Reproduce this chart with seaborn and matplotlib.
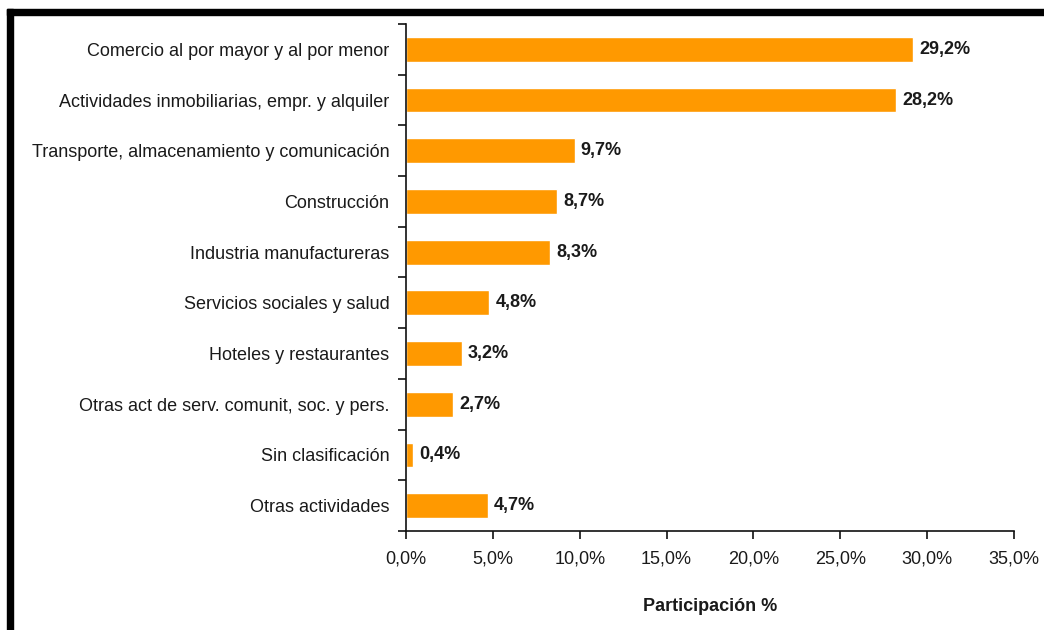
import numpy as np
import pandas as pd
import matplotlib
matplotlib.use("Agg")
import matplotlib.pyplot as plt
from matplotlib.patches import Rectangle
import seaborn as sns

categorias = [
    "Comercio al por mayor y al por menor",
    "Actividades inmobiliarias, empr. y alquiler",
    "Transporte, almacenamiento y comunicación",
    "Construcción",
    "Industria manufactureras",
    "Servicios sociales y salud",
    "Hoteles y restaurantes",
    "Otras act de serv. comunit, soc. y pers.",
    "Sin clasificación",
    "Otras actividades",
]
participacion = [29.2, 28.2, 9.7, 8.7, 8.3, 4.8, 3.2, 2.7, 0.4, 4.7]
xticks = [0, 5, 10, 15, 20, 25, 30, 35]

df = pd.DataFrame({"categoria": categorias, "valor": participacion})

sns.set_style("white")
plt.rcParams["font.family"] = ["Liberation Sans", "DejaVu Sans"]

fig = plt.figure(figsize=(10.44, 6.30), dpi=100)
ax = fig.add_axes([406 / 1044, 1 - 531 / 630, (1014 - 406) / 1044, (531 - 24) / 630])

sns.barplot(data=df, x="valor", y="categoria", color="#FF9900", saturation=1,
            width=0.49, ax=ax)

for i, v in enumerate(participacion):
    ax.text(v + 0.35, i, f"{v:.1f}%".replace(".", ","), va="center", ha="left",
            fontsize=13, fontweight="semibold", color="#1a1a1a")

ax.set_xlim(0, 35)
ax.set_ylim(9.5, -0.5)
ax.set_xticks(xticks)
ax.set_xticklabels([f"{t:.1f}%".replace(".", ",") for t in xticks], fontsize=13)
ax.set_yticks(np.arange(-0.5, 10, 1), minor=True)
ax.tick_params(axis="y", which="major", length=0, pad=12, labelsize=13, labelcolor="#1a1a1a")
ax.tick_params(axis="y", which="minor", length=6, width=1.2, color="#111111", left=True)
ax.tick_params(axis="x", length=6, width=1.2, color="#111111", bottom=True, pad=8,
               labelcolor="#1a1a1a")
ax.set_ylabel("")
ax.set_xlabel("Participación %", fontsize=13, fontweight="semibold", labelpad=22,
              color="#1a1a1a")

sns.despine(ax=ax, top=True, right=True)
ax.spines["left"].set_color("#111111")
ax.spines["bottom"].set_color("#111111")
ax.spines["left"].set_linewidth(1.2)
ax.spines["bottom"].set_linewidth(1.2)

# black frame around the picture (top and left edges)
fig.patches.append(Rectangle((7 / 1044, 0), 6 / 1044, 1 - 9 / 630, transform=fig.transFigure,
                             color="black", zorder=10))
fig.patches.append(Rectangle((7 / 1044, 1 - 15 / 630), 1, 6 / 630, transform=fig.transFigure,
                             color="black", zorder=10))

fig.savefig("out.png", dpi=100)
